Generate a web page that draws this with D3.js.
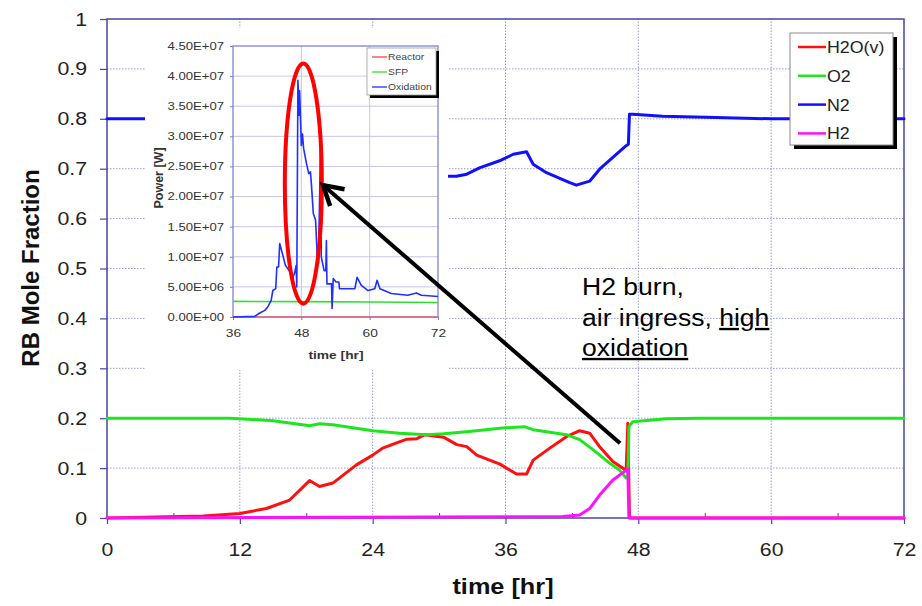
<!DOCTYPE html>
<html>
<head>
<meta charset="utf-8">
<script src="https://cdn.jsdelivr.net/npm/d3@7"></script>
<style>
  html, body { margin: 0; padding: 0; background: #fff; }
  svg { display: block; font-family: "Liberation Sans", Arial, sans-serif; }
</style>
</head>
<body>
<svg id="chart" width="922" height="606"></svg>
<script>
// ---- Reactor building gas composition (mole fraction vs time in hours) ----
const xTicks = [0, 12, 24, 36, 48, 60, 72];
const xMinorTicks = [6, 18, 30, 42, 54, 66];
const yTicks = [0, 0.1, 0.2, 0.3, 0.4, 0.5, 0.6, 0.7, 0.8, 0.9, 1];

const h2o = [[0,0],[8.7,0.004],[12,0.009],[14.4,0.019],[16.5,0.036],[18.3,0.075],[19.2,0.063],
  [20.4,0.07],[22.5,0.106],[24,0.126],[24.9,0.14],[26.1,0.15],[27.1,0.158],[28,0.159],[28.7,0.167],
  [30.4,0.162],[31.6,0.147],[32.5,0.143],[33.4,0.126],[35.5,0.108],[37,0.088],[37.9,0.088],
  [38.5,0.116],[40,0.14],[41.5,0.163],[42.7,0.175],[43.6,0.17],[44.5,0.143],[45.7,0.113],
  [46.9,0.095],[47.05,0.19],[47.2,0.003],[47.3,0],[72,0]];

const o2 = [[0,0.2],[11.1,0.2],[15,0.195],[18.3,0.185],[19.2,0.189],[20.4,0.187],[24,0.175],
  [26.4,0.17],[28.9,0.167],[30.4,0.169],[32.5,0.173],[35.5,0.18],[37.7,0.183],[38.5,0.177],
  [41.5,0.167],[42.7,0.157],[43.9,0.137],[45.4,0.11],[46.3,0.096],[46.9,0.08],[47.05,0.08],
  [47.15,0.183],[47.5,0.193],[50.5,0.199],[53.5,0.2],[72,0.2]];

const n2 = [[0,0.8],[12,0.8],[20,0.76],[29.1,0.685],[31.55,0.685],[32.5,0.689],[33.7,0.702],
  [35.6,0.717],[36.7,0.729],[37.9,0.734],[38.5,0.709],[39.7,0.692],[41.8,0.672],[42.4,0.667],
  [43.6,0.675],[44.5,0.699],[46.9,0.746],[47.1,0.749],[47.2,0.809],[47.5,0.809],[50.2,0.805],
  [54.1,0.803],[60,0.8],[72,0.8]];

const h2 = [[0,0],[41.2,0.003],[42.7,0.006],[43.6,0.019],[44.5,0.046],[45.7,0.076],[47.05,0.098],
  [47.15,0],[72,0]];

const seriesNames = ["H2O(v)", "O2", "N2", "H2"];
const seriesColors = ["#ff1010", "#1ee61e", "#1010ff", "#ff10ff"];

// ---- Heat source powers (W) vs time in hours ----
const insetXTicks = [36, 48, 60, 72];
const insetYTicks = [0, 5e6, 1e7, 1.5e7, 2e7, 2.5e7, 3e7, 3.5e7, 4e7, 4.5e7];

const reactorPower = [[36,0],[72,0]];
const sfpPower = [[36,2.6e6],[48,2.55e6],[60,2.5e6],[72,2.4e6]];
const oxidationPower = [[36,0],[39.8,0.11e6],[40.7,0.66e6],[41.6,1.1e6],[42.1,1.66e6],[42.7,2.77e6],
  [43.0,4.4e6],[43.5,4.7e6],[43.7,8.3e6],[44.0,8.3e6],[44.2,12.2e6],[44.6,10.8e6],[45.2,8.6e6],
  [46.0,7.5e6],[46.5,6.6e6],[46.8,7.2e6],[47.1,8.6e6],[47.2,5.0e6],[47.4,39.3e6],[47.6,33.5e6],
  [47.7,37.6e6],[48.0,28.5e6],[48.2,30.4e6],[48.4,28.0e6],[48.9,25.5e6],[49.3,23.8e6],[49.6,24.1e6],
  [49.8,21.6e6],[50.1,17.2e6],[50.5,16.1e6],[50.8,10.0e6],[51.0,8.9e6],[51.4,29.9e6],[51.5,10.0e6],
  [52.0,7.7e6],[52.3,7.7e6],[52.4,12.7e6],[52.5,5.5e6],[53.3,5.5e6],[53.4,1.4e6],[53.6,6.4e6],
  [54.1,5.8e6],[54.6,5.8e6],[54.7,4.7e6],[57.4,4.7e6],[57.8,6.6e6],[58.5,5.3e6],[59.7,4.4e6],
  [60.9,4.7e6],[61.3,6.1e6],[61.8,4.7e6],[63.8,3.9e6],[66.7,3.6e6],[68.2,4.0e6],[69.1,3.6e6],
  [72,3.4e6]];

const insetNames = ["Reactor", "SFP", "Oxidation"];
const insetColors = ["#ff4040", "#30e030", "#1f2fff"];

// ---------------------------------------------------------------
const svg = d3.select("#chart");
const AXIS = "#4646a6";

// widen glyphs slightly about their anchor x
function widen(sel, k) {
  sel.attr("transform", function () {
    const x = +this.getAttribute("x") || 0;
    return `translate(${x * (1 - k)},0) scale(${k},1)`;
  });
}

const x = d3.scaleLinear().domain([0, 72]).range([107, 904]);
const y = d3.scaleLinear().domain([0, 1]).range([518, 19]);

// grid
const grid = svg.append("g");
grid.selectAll("line.h").data(yTicks.slice(1, -1)).join("line")
  .attr("x1", x(0)).attr("x2", x(72)).attr("y1", d => y(d)).attr("y2", d => y(d))
  .attr("stroke", "#9a9ad6").attr("stroke-width", 1).attr("stroke-dasharray", "1.5,1.5");
grid.selectAll("line.v").data(xTicks.slice(1, -1)).join("line")
  .attr("x1", d => x(d)).attr("x2", d => x(d)).attr("y1", y(0)).attr("y2", y(1))
  .attr("stroke", "#9a9ad6").attr("stroke-width", 1).attr("stroke-dasharray", "1.5,1.5");

// axes
const yAxis = svg.append("g").attr("transform", `translate(${x(0)},0)`)
  .call(d3.axisLeft(y).tickValues(yTicks).tickSize(7).tickSizeOuter(0).tickPadding(13).tickFormat(d3.format("~g")));
yAxis.select(".domain").remove();
yAxis.selectAll("line").attr("stroke", AXIS).attr("stroke-width", 1.2);
yAxis.selectAll("text").attr("font-size", 19).attr("fill", "#222")
  .attr("font-family", "Liberation Sans, Arial, sans-serif").call(widen, 1.12);

const xAxis = svg.append("g").attr("transform", `translate(0,${y(0)})`)
  .call(d3.axisBottom(x).tickValues(xTicks).tickSize(6).tickSizeOuter(0).tickPadding(19).tickFormat(d3.format("d")));
xAxis.select(".domain").remove();
xAxis.selectAll("line").attr("stroke", AXIS).attr("stroke-width", 1.2);
xAxis.selectAll("text").attr("font-size", 19).attr("fill", "#222")
  .attr("font-family", "Liberation Sans, Arial, sans-serif").call(widen, 1.12);

const xMinor = svg.append("g").attr("transform", `translate(0,${y(0)})`)
  .call(d3.axisBottom(x).tickValues(xMinorTicks).tickSize(-5).tickFormat(""));
xMinor.select(".domain").remove();
xMinor.selectAll("line").attr("stroke", AXIS).attr("stroke-width", 1);

// plot frame
svg.append("rect").attr("x", x(0)).attr("y", y(1))
  .attr("width", x(72) - x(0)).attr("height", y(0) - y(1))
  .attr("fill", "none").attr("stroke", AXIS).attr("stroke-width", 1.5);

// series
const line = d3.line().x(d => x(d[0])).y(d => y(d[1]));
[h2o, o2, n2, h2].forEach((s, i) => {
  svg.append("path").datum(s).attr("d", line)
    .attr("fill", "none").attr("stroke", seriesColors[i]).attr("stroke-width", 3)
    .attr("stroke-linejoin", "round").attr("stroke-linecap", "round");
});

// axis titles
svg.append("text").attr("x", 503).attr("y", 594).attr("text-anchor", "middle")
  .attr("font-size", 22).attr("font-weight", "bold").attr("fill", "#111")
  .text("time [hr]").call(widen, 1.15);
svg.append("text").attr("transform", "translate(39,268) rotate(-90)")
  .attr("text-anchor", "middle").attr("font-size", 24).attr("font-weight", "bold").attr("fill", "#111")
  .text("RB Mole Fraction");

// legend
const lg = svg.append("g");
lg.append("rect").attr("x", 794).attr("y", 37).attr("width", 103).attr("height", 112).attr("fill", "#000");
lg.append("rect").attr("x", 790).attr("y", 33).attr("width", 103).attr("height", 112)
  .attr("fill", "#fff").attr("stroke", "#8a8a8a").attr("stroke-width", 1);
seriesNames.forEach((n, i) => {
  const yy = 47 + i * 28.8;
  lg.append("line").attr("x1", 798).attr("x2", 826).attr("y1", yy).attr("y2", yy)
    .attr("stroke", seriesColors[i]).attr("stroke-width", 2.5);
  lg.append("text").attr("x", 827).attr("y", yy + 6).attr("font-size", 16.5).attr("fill", "#222")
    .text(n).call(widen, 1.08);
});

// ---------------- inset: power plot ----------------
const inset = svg.append("g");
inset.append("rect").attr("x", 145).attr("y", 28).attr("width", 303).attr("height", 342).attr("fill", "#fff");

const xi = d3.scaleLinear().domain([36, 72]).range([233, 438]);
const yi = d3.scaleLinear().domain([0, 4.5e7]).range([317, 46]);

inset.selectAll("line.ih").data(insetYTicks.slice(1, -1)).join("line")
  .attr("x1", xi(36)).attr("x2", xi(72)).attr("y1", d => yi(d)).attr("y2", d => yi(d))
  .attr("stroke", "#c6c6ea").attr("stroke-width", 1);
inset.selectAll("line.iv").data(insetXTicks.slice(1, -1)).join("line")
  .attr("x1", d => xi(d)).attr("x2", d => xi(d)).attr("y1", yi(0)).attr("y2", yi(4.5e7))
  .attr("stroke", "#c6c6ea").attr("stroke-width", 1);

const sci = d => {
  if (d === 0) return "0.00E+00";
  const e = Math.floor(Math.log10(d) + 1e-9);
  return (d / Math.pow(10, e)).toFixed(2) + "E+" + String(e).padStart(2, "0");
};
const yiAxis = inset.append("g").attr("transform", `translate(${xi(36)},0)`)
  .call(d3.axisLeft(yi).tickValues(insetYTicks).tickSize(3).tickSizeOuter(0).tickPadding(6).tickFormat(sci));
yiAxis.select(".domain").remove();
yiAxis.selectAll("line").attr("stroke", "#7a7ac8");
yiAxis.selectAll("text").attr("font-size", 10.5).attr("fill", "#333")
  .attr("font-family", "Liberation Sans, Arial, sans-serif").call(widen, 1.25);

const xiAxis = inset.append("g").attr("transform", `translate(0,${yi(0)})`)
  .call(d3.axisBottom(xi).tickValues(insetXTicks).tickSize(3).tickSizeOuter(0).tickPadding(9).tickFormat(d3.format("d")));
xiAxis.select(".domain").remove();
xiAxis.selectAll("line").attr("stroke", "#7a7ac8");
xiAxis.selectAll("text").attr("font-size", 11).attr("fill", "#333")
  .attr("font-family", "Liberation Sans, Arial, sans-serif").call(widen, 1.25);

inset.append("rect").attr("x", xi(36)).attr("y", yi(4.5e7))
  .attr("width", xi(72) - xi(36)).attr("height", yi(0) - yi(4.5e7))
  .attr("fill", "none").attr("stroke", "#7a7ac8").attr("stroke-width", 1.2);

const iline = d3.line().x(d => xi(d[0])).y(d => yi(d[1]));
[reactorPower, sfpPower, oxidationPower].forEach((s, i) => {
  inset.append("path").datum(s).attr("d", iline)
    .attr("fill", "none").attr("stroke", insetColors[i]).attr("stroke-width", i === 0 ? 1.2 : 1.6)
    .attr("stroke-linejoin", "round");
});

inset.append("text").attr("x", 336).attr("y", 359).attr("text-anchor", "middle")
  .attr("font-size", 11.5).attr("font-weight", "bold").attr("fill", "#333")
  .text("time [hr]").call(widen, 1.2);
inset.append("text").attr("transform", "translate(163,178) rotate(-90)")
  .attr("text-anchor", "middle").attr("font-size", 12.5).attr("font-weight", "bold").attr("fill", "#333")
  .text("Power [W]");

// inset legend
inset.append("rect").attr("x", 370).attr("y", 51).attr("width", 69).attr("height", 47).attr("fill", "#000");
inset.append("rect").attr("x", 367).attr("y", 48).attr("width", 69).attr("height", 47)
  .attr("fill", "#fff").attr("stroke", "#999").attr("stroke-width", 0.8);
insetNames.forEach((n, i) => {
  const yy = 57 + i * 15;
  inset.append("line").attr("x1", 372).attr("x2", 387).attr("y1", yy).attr("y2", yy)
    .attr("stroke", insetColors[i]).attr("stroke-width", 1.3);
  inset.append("text").attr("x", 388).attr("y", yy + 3.5).attr("font-size", 9).attr("fill", "#444")
    .text(n).call(widen, 1.15);
});

// ---------------- annotation ----------------
// ring around the oxidation peak
const ring = { t0: 45.1, t1: 51.6, p0: 0.22e7, p1: 4.21e7 };
svg.append("ellipse")
  .attr("cx", (xi(ring.t0) + xi(ring.t1)) / 2).attr("cy", (yi(ring.p0) + yi(ring.p1)) / 2)
  .attr("rx", (xi(ring.t1) - xi(ring.t0)) / 2).attr("ry", (yi(ring.p0) - yi(ring.p1)) / 2)
  .attr("fill", "none").attr("stroke", "#ff0000").attr("stroke-width", 4);

// arrow from the H2 burn in the main plot to the ringed peak
const tail = [x(46.35), y(0.150)];
const tip = [xi(51.8), yi(2.19e7)];
const dx = tail[0] - tip[0], dy = tail[1] - tip[1], len = Math.hypot(dx, dy);
const ux = dx / len, uy = dy / len, wing = 22, a = Math.PI / 6;
const w1 = [tip[0] + wing * (ux * Math.cos(a) - uy * Math.sin(a)), tip[1] + wing * (ux * Math.sin(a) + uy * Math.cos(a))];
const w2 = [tip[0] + wing * (ux * Math.cos(-a) - uy * Math.sin(-a)), tip[1] + wing * (ux * Math.sin(-a) + uy * Math.cos(-a))];
svg.append("path").attr("d", d3.line()([tail, tip]))
  .attr("stroke", "#000").attr("stroke-width", 4).attr("fill", "none");
svg.append("path").attr("d", d3.line()([w1, tip, w2]))
  .attr("stroke", "#000").attr("stroke-width", 4.5).attr("fill", "none")
  .attr("stroke-linejoin", "miter");

const note = svg.append("g").attr("font-size", 23.5).attr("fill", "#000");
note.append("text").attr("x", 582).attr("y", 295).text("H2 burn,").call(widen, 1.13);
const t2 = note.append("text").attr("x", 582).attr("y", 326).call(widen, 1.13);
t2.append("tspan").text("air ingress, ");
t2.append("tspan").attr("text-decoration", "underline").text("high");
note.append("text").attr("x", 582).attr("y", 356).attr("text-decoration", "underline")
  .text("oxidation").call(widen, 1.13);
</script>
</body>
</html>
